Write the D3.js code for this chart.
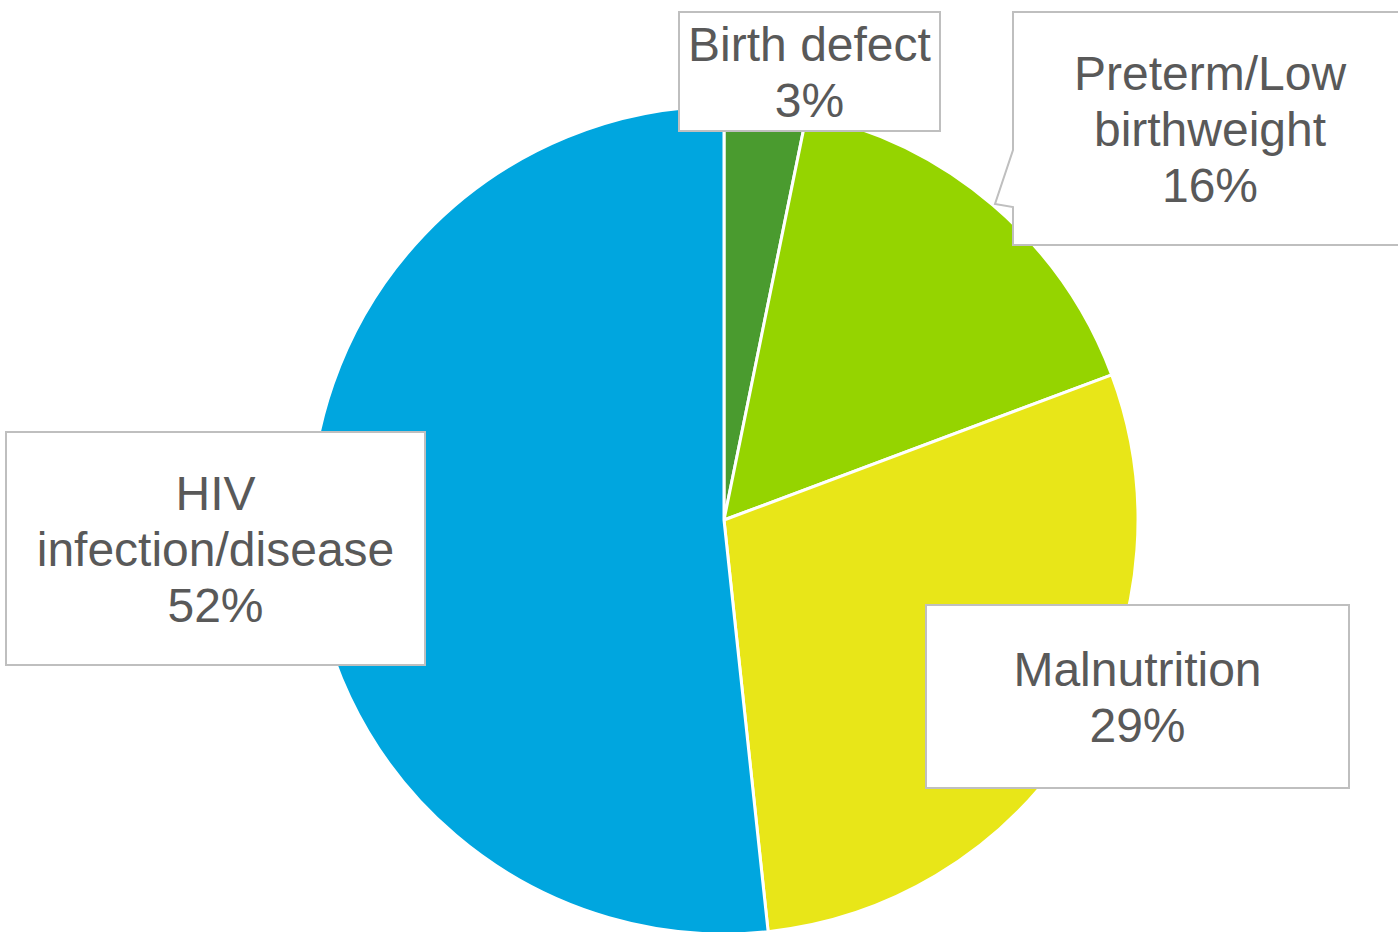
<!DOCTYPE html>
<html>
<head>
<meta charset="utf-8">
<script src="https://cdn.jsdelivr.net/npm/d3@7"></script>
<style>
  html, body { margin: 0; padding: 0; background: #fff; overflow: hidden; }
  svg { display: block; }
</style>
</head>
<body>
<svg id="chart" width="1398" height="932"></svg>
<script>
// ---- data ----
const categories = ["Birth defect", "Preterm/Low birthweight", "Malnutrition", "HIV infection/disease"];
const values = [3.2, 16.1, 29.0, 51.7];
const labelLines = [["Birth defect"], ["Preterm/Low", "birthweight"], ["Malnutrition"], ["HIV", "infection/disease"]];
const colors = ["#4a9b2f", "#95d400", "#e8e618", "#00a6df"];

// ---- layout (not data) ----
const W = 1398, H = 932;
const cx = 724, cy = 520, R = 414;
const boxes = [
  {x0: 679, y0: 12, x1: 940, y1: 131},
  {x0: 1013, y0: 12, x1: 1410, y1: 245, textX: 1210, pointer: [[1013, 207], [995, 204], [1013, 150]]},
  {x0: 926, y0: 605, x1: 1349, y1: 788},
  {x0: 6, y0: 432, x1: 425, y1: 665}
];
const fontSize = 48, lineH = 56;

const svg = d3.select("#chart");
const total = d3.sum(values);

const pie = d3.pie().sort(null).value(d => d)(values);
const arc = d3.arc().innerRadius(0).outerRadius(R);

const g = svg.append("g").attr("transform", `translate(${cx},${cy})`);
g.selectAll("path.slice")
  .data(pie)
  .join("path")
  .attr("class", "slice")
  .attr("d", arc)
  .attr("fill", (d, i) => colors[i])
  .attr("stroke", "#ffffff")
  .attr("stroke-width", 3)
  .attr("stroke-linejoin", "round");

// labels
const fmt = v => Math.round(v / total * 100) + "%";
const lg = svg.append("g");
boxes.forEach((b, i) => {
  let d;
  if (b.pointer) {
    const p = b.pointer;
    d = `M${b.x0},${b.y0} H${b.x1} V${b.y1} H${b.x0} V${p[0][1]} L${p[1][0]},${p[1][1]} L${p[2][0]},${p[2][1]} Z`;
  } else {
    d = `M${b.x0},${b.y0} H${b.x1} V${b.y1} H${b.x0} Z`;
  }
  lg.append("path")
    .attr("d", d)
    .attr("fill", "#ffffff")
    .attr("stroke", "#bfbfbf")
    .attr("stroke-width", 2);
  const lines = labelLines[i].concat([fmt(values[i])]);
  const tx = b.textX !== undefined ? b.textX : (b.x0 + b.x1) / 2;
  const cyb = (b.y0 + b.y1) / 2;
  const n = lines.length;
  const t = lg.append("text")
    .attr("text-anchor", "middle")
    .attr("font-family", "'Liberation Sans', Arial, sans-serif")
    .attr("font-size", fontSize)
    .attr("fill", "#595959");
  lines.forEach((ln, k) => {
    t.append("tspan")
      .attr("x", tx)
      .attr("y", cyb + (k - (n - 1) / 2) * lineH + 17)
      .text(ln);
  });
});
</script>
</body>
</html>
